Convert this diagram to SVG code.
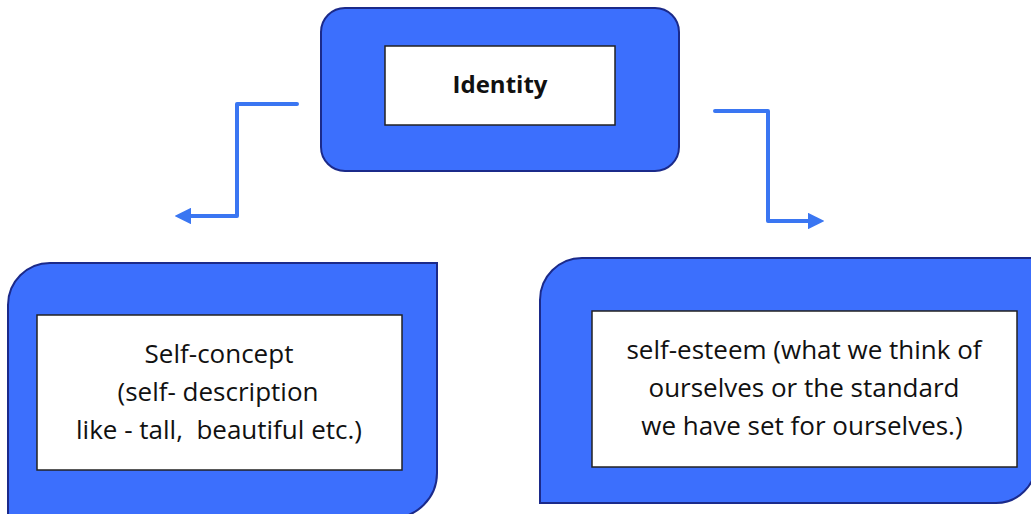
<svg xmlns="http://www.w3.org/2000/svg" width="1031" height="514" viewBox="0 0 1031 514">
<style>
.outer{fill:#3c6ffd;stroke:#1b2a8a;stroke-width:2}
.inner{fill:#fff;stroke:#222;stroke-width:1.5}
.lbl{font-family:"Open Sans","Liberation Sans",sans-serif;font-size:26px;fill:#111;text-anchor:middle;white-space:pre}
.title{font-family:"Open Sans","Liberation Sans",sans-serif;font-size:24px;font-weight:bold;fill:#111;text-anchor:middle}
.conn{fill:none;stroke:#3a76f2;stroke-width:4;stroke-linejoin:round;stroke-linecap:round}
</style>
<defs>
<marker id="ah" viewBox="0 0 10 10" refX="2" refY="5" markerWidth="4.2" markerHeight="4.2" orient="auto" markerUnits="strokeWidth">
<path d="M0,0 L10,5 L0,10 Z" fill="#3a76f2"/>
</marker>
</defs>
<g id="connectors">
<path class="conn" d="M297,104 H237 V216 H188" marker-end="url(#ah)"/>
<path class="conn" d="M715,111 H768 V221 H811" marker-end="url(#ah)"/>
</g>
<g id="identity">
<rect class="outer" x="321" y="8" width="358" height="163" rx="24"/>
<rect class="inner" x="385" y="46" width="230" height="79"/>
<text class="title" x="500" y="93">Identity</text>
</g>
<g id="self-concept">
<path class="outer" d="M8,518 V305 A42,42 0 0 1 50,263 H437 V473 A45,45 0 0 1 392,518 Z"/>
<rect class="inner" x="37" y="315" width="365" height="155"/>
<text class="lbl" x="219" y="363">Self-concept</text>
<text class="lbl" x="218" y="401">(self- description</text>
<text class="lbl" x="219" y="439" xml:space="preserve">like - tall,  beautiful etc.)</text>
</g>
<g id="self-esteem">
<path class="outer" d="M540,503 V300 A42,42 0 0 1 582,258 H1036 V463 A40,40 0 0 1 996,503 Z"/>
<rect class="inner" x="592" y="311" width="425" height="156"/>
<text class="lbl" x="804" y="359">self-esteem (what we think of</text>
<text class="lbl" x="804" y="397">ourselves or the standard</text>
<text class="lbl" x="802" y="435">we have set for ourselves.)</text>
</g>
</svg>
